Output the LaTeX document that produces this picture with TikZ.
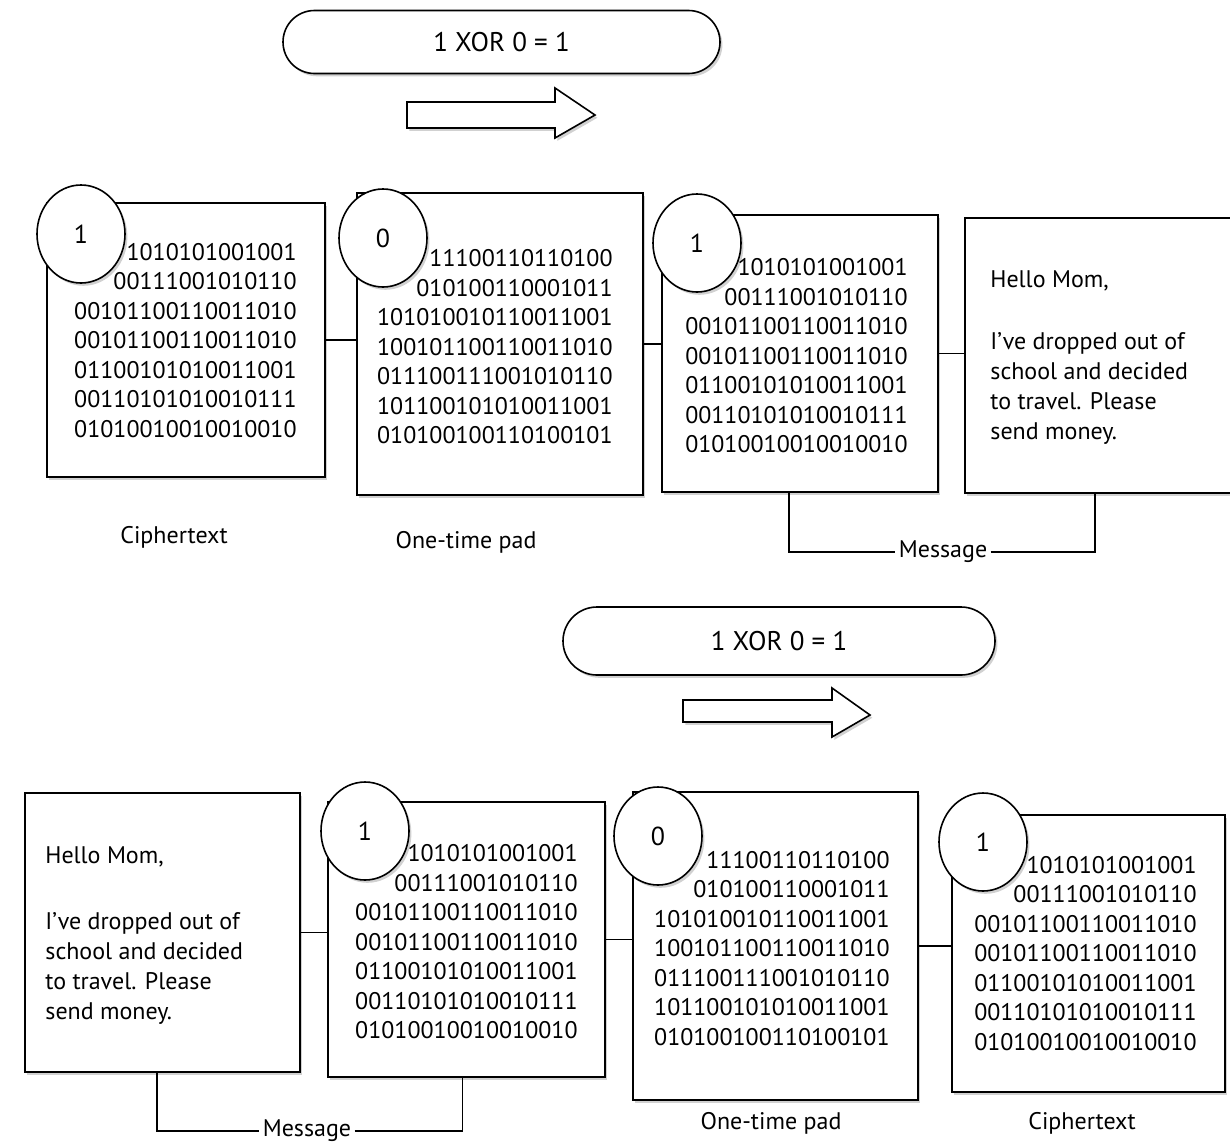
\documentclass[tikz,border=0pt]{standalone}
\usepackage{fontspec}
\setmainfont{PT Sans}
\usetikzlibrary{calc,shapes.geometric,shadows}
\begin{document}
\begin{tikzpicture}[x=0.5pt,y=-0.5pt,
  shd/.style={drop shadow={shadow xshift=1.2pt,shadow yshift=-1.4pt,fill=black,opacity=0.18}},
  pad/.style={draw,line width=0.9pt,fill=white,inner sep=0pt,shd},
  bits/.style={inner sep=0pt,align=right,anchor=east,font=\fontsize{12}{14.75}\selectfont},
  msgtxt/.style={inner sep=0pt,align=left,anchor=north west,font=\fontsize{12}{15}\selectfont},
  dot/.style={ellipse,draw,line width=0.8pt,fill=white,inner sep=0pt,minimum width=44pt,minimum height=49pt,font=\fontsize{13}{15}\selectfont,shd},
  xorbox/.style={draw,line width=0.8pt,fill=white,inner sep=0pt,font=\fontsize{13.5}{15}\selectfont,shd},
  lbl/.style={inner sep=1.5pt,font=\fontsize{12}{14}\selectfont},
  conn/.style={draw,line width=0.6pt},
  barrow/.style={draw,line width=0.8pt,fill=white,line join=miter,shd}
]
\useasboundingbox (0,0) rectangle (1230,1146);
\fill[white] (0,0) rectangle (1230,1146);

% ---------- top: decryption ----------
\node[xorbox,minimum width=218.5pt,minimum height=31.5pt,rounded corners=15.75pt] (xor1) at (501.5,42) {1 XOR 0 = 1};
\path[barrow] (407,102) -- (555,102) -- (555,88) -- (595,115) -- (555,138) -- (555,128) -- (407,128) -- cycle;

\node[pad,minimum width=139pt,minimum height=137pt] (c1) at (186,340) {};
\node[pad,minimum width=143pt,minimum height=151pt] (c2) at (500,344) {};
\node[pad,minimum width=138pt,minimum height=138.5pt] (c3) at (800,353.5) {};
\node[pad,minimum width=137.5pt,minimum height=137.5pt] (c4) at (1102.5,355.5) {};

\draw[conn] (c1.east) -- (c2.west |- c1.east);
\draw[conn] (c2.east) -- (c3.west |- c2.east);
\draw[conn] (c3.east) -- (c4.west |- c3.east);

\node[bits] (c1t) at (297,340.5) {1010101001001\\00111001010110\\00101100110011010\\00101100110011010\\01100101010011001\\00110101010010111\\01010010010010010};
\node[bits] (c2t) at (613,347) {11100110110100\\010100110001011\\101010010110011001\\100101100110011010\\011100111001010110\\101100101010011001\\010100100110100101};
\node[bits] (c3t) at (908,356) {1010101001001\\00111001010110\\00101100110011010\\00101100110011010\\01100101010011001\\00110101010010111\\01010010010010010};
\node[msgtxt] (c4t) at (990,270) {Hello Mom,\\[16pt]I’ve dropped out of\\school and decided\\to travel. Please\\send money.};

\node[dot] (k1) at (81,234) {1};
\node[dot] (k2) at (383,238) {0};
\node[dot] (k3) at (697,243) {1};

\node[lbl] (l1) at (174,537) {Ciphertext};
\node[lbl] (l2) at (466,542) {One-time pad};
\node[lbl] (msg1) at (943,552) {Message};
\coordinate (t1) at ($(c3.south west)!0.46!(c3.south east)$);
\coordinate (t2) at ($(c4.south west)!0.473!(c4.south east)$);
\draw[conn] (t1) |- (msg1.west);
\draw[conn] (msg1.east) -| (t2);

% ---------- bottom: encryption ----------
\node[xorbox,minimum width=216pt,minimum height=34pt,rounded corners=17pt] (xor2) at (779,641) {1 XOR 0 = 1};
\path[barrow] (683,700) -- (832,700) -- (832,688) -- (870,715) -- (832,737) -- (832,722) -- (683,722) -- cycle;

\node[pad,minimum width=137.5pt,minimum height=139.5pt] (d1) at (162.5,932.5) {};
\node[pad,minimum width=138.5pt,minimum height=137.5pt] (d2) at (466.5,939.5) {};
\node[pad,minimum width=142.5pt,minimum height=154pt] (d3) at (775.5,946) {};
\node[pad,minimum width=136.5pt,minimum height=138.5pt] (d4) at (1088.5,953.5) {};

\draw[conn] (d1.east) -- (d2.west |- d1.east);
\draw[conn] (d2.east) -- (d3.west |- d2.east);
\draw[conn] (d3.east) -- (d4.west |- d3.east);

\node[msgtxt] (d1t) at (45,846) {Hello Mom,\\[18pt]I’ve dropped out of\\school and decided\\to travel. Please\\send money.};
\node[bits] (d2t) at (578,942) {1010101001001\\00111001010110\\00101100110011010\\00101100110011010\\01100101010011001\\00110101010010111\\01010010010010010};
\node[bits] (d3t) at (890,948.5) {11100110110100\\010100110001011\\101010010110011001\\100101100110011010\\011100111001010110\\101100101010011001\\010100100110100101};
\node[bits] (d4t) at (1197,953.5) {1010101001001\\00111001010110\\00101100110011010\\00101100110011010\\01100101010011001\\00110101010010111\\01010010010010010};

\node[dot] (m2) at (365,831) {1};
\node[dot] (m3) at (658,836) {0};
\node[dot] (m4) at (983,842) {1};

\node[lbl] (msg2) at (307,1131) {Message};
\node[lbl] (l3) at (771,1123) {One-time pad};
\node[lbl] (l4) at (1082,1123) {Ciphertext};
\coordinate (b1) at ($(d1.south west)!0.48!(d1.south east)$);
\coordinate (b2) at ($(d2.south west)!0.487!(d2.south east)$);
\draw[conn] (b1) |- (msg2.west);
\draw[conn] (msg2.east) -| (b2);
\end{tikzpicture}
\end{document}
